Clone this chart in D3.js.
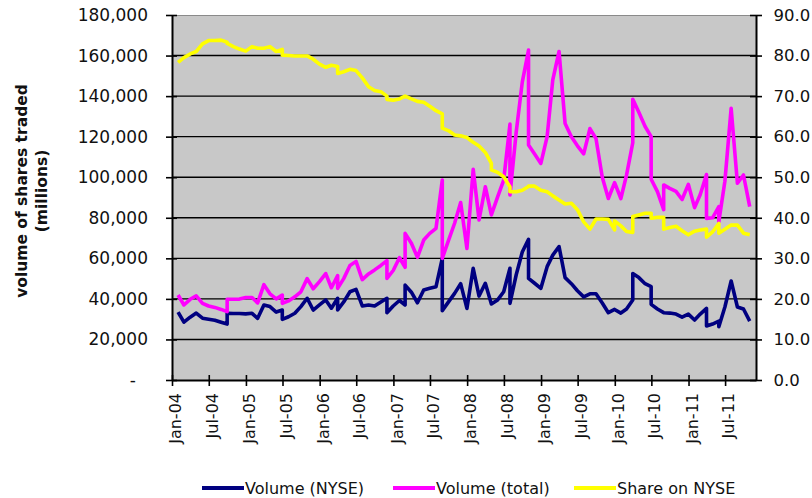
<!DOCTYPE html>
<html>
<head>
<meta charset="utf-8">
<script src="https://cdn.jsdelivr.net/npm/d3@7"></script>
<style>
  body { margin: 0; background: #fff; }
  svg { display: block; font-family: 'DejaVu Sans', Verdana, sans-serif; }
</style>
</head>
<body>
<div id="chart"></div>
<script>
// one entry per observation; a month listed twice gives the vertical steps in the lines
const months = [
  '2004-01', '2004-02', '2004-03', '2004-04', '2004-05', '2004-06', '2004-07', '2004-08', '2004-09', '2004-09', '2004-10', '2004-11', '2004-12',
  '2005-01', '2005-02', '2005-03', '2005-04', '2005-05', '2005-06', '2005-06', '2005-07', '2005-08', '2005-09', '2005-10', '2005-11', '2005-12',
  '2006-01', '2006-02', '2006-03', '2006-03', '2006-04', '2006-05', '2006-06', '2006-07', '2006-08', '2006-09', '2006-10', '2006-11', '2006-11', '2006-12',
  '2007-01', '2007-02', '2007-02', '2007-03', '2007-04', '2007-05', '2007-06', '2007-07', '2007-08', '2007-08', '2007-09', '2007-10', '2007-11', '2007-12',
  '2008-01', '2008-02', '2008-03', '2008-04', '2008-04', '2008-05', '2008-06', '2008-07', '2008-07', '2008-08', '2008-09', '2008-10', '2008-10', '2008-11', '2008-12',
  '2009-01', '2009-02', '2009-03', '2009-04', '2009-05', '2009-06', '2009-07', '2009-08', '2009-09', '2009-10', '2009-11', '2009-12', '2009-12',
  '2010-01', '2010-02', '2010-03', '2010-03', '2010-04', '2010-05', '2010-06', '2010-06', '2010-07', '2010-08', '2010-08', '2010-09', '2010-10', '2010-11', '2010-12',
  '2011-01', '2011-02', '2011-03', '2011-03', '2011-04', '2011-05', '2011-05', '2011-06', '2011-07', '2011-08', '2011-09', '2011-10'
]

// millions of shares
const volumeNyse = [
  33500, 28500, 31000, 33000, 30500, 30000, 29500, 28500, 27600, 32900, 32800, 32800, 32600,
  32900, 30400, 37000, 36200, 33500, 34500, 29900, 31200, 32900, 36200, 40300, 34500, 37000,
  39500, 35400, 40300, 34500, 38500, 43500, 44700, 36500, 37000, 36500, 38500, 40300, 33200, 36500,
  39200, 37000, 46800, 43300, 38100, 44400, 45200, 46000, 60000, 34200, 38400, 42700, 47500, 35300,
  55100, 41400, 47700, 37500, 37500, 39500, 43500, 55100, 37800, 51900, 63100, 69400, 50100, 47700, 45200,
  55900, 61600, 65800, 50500, 47500, 44000, 41000, 42500, 42500, 38000, 33200, 34800, 34800,
  33000, 35000, 39500, 52500, 50500, 47500, 46000, 37300, 35000, 33200, 33200, 33000, 32500, 31000, 32500,
  29600, 32500, 35300, 26600, 27600, 29000, 26300, 36000, 48800, 36000, 35000, 29000
]

const volumeTotal = [
  41900, 37000, 39800, 41500, 37800, 36500, 35800, 34800, 33700, 39800, 39800, 39900, 40700,
  40700, 38000, 47000, 42500, 40000, 41900, 37800, 39000, 41000, 43500, 50000, 45000, 48500,
  52500, 45500, 51500, 45200, 50000, 56500, 58500, 49500, 52300, 54300, 56500, 58900, 50100, 54000,
  60300, 55600, 72300, 67400, 60500, 69000, 72300, 74800, 98600, 60000, 68600, 77300, 87500, 64900,
  103900, 78900, 95300, 81400, 81400, 90300, 98600, 126200, 91200, 122300, 146900, 162700, 115900, 111500, 106800,
  120000, 148000, 162000, 126500, 120000, 115500, 111500, 124000, 119000, 100000, 89500, 97300, 97300,
  89500, 101000, 117000, 138400, 132000, 125000, 120000, 99000, 92900, 84000, 96200, 94500, 93000, 89000, 96500,
  85000, 91500, 101300, 79700, 80000, 85500, 78100, 98000, 134000, 97000, 101100, 85500
]

// per cent, right axis
const shareNyse = [
  78.3, 79.5, 80.4, 81.0, 82.9, 83.7, 83.7, 83.8, 83.3, 83.0, 82.2, 81.6, 81.1,
  82.2, 81.8, 81.8, 82.2, 81.0, 81.5, 80.1, 80.0, 79.9, 79.9, 79.9, 79.1, 77.9,
  77.1, 77.6, 77.3, 75.6, 76.0, 76.6, 76.3, 74.5, 72.3, 71.4, 71.1, 70.0, 69.2, 69.0,
  69.3, 70.0, 70.0, 69.3, 68.7, 68.5, 67.5, 66.4, 65.6, 62.1, 61.5, 60.4, 60.2, 59.8,
  58.6, 57.7, 56.1, 53.4, 51.8, 51.2, 50.1, 47.6, 46.4, 46.4, 46.8, 47.7, 47.8, 47.8, 46.8,
  46.4, 45.4, 44.4, 43.4, 43.6, 42.0, 39.0, 37.2, 39.7, 39.7, 39.6, 37.0, 39.2,
  38.0, 36.6, 36.4, 40.3, 40.7, 41.1, 41.1, 39.9, 40.1, 40.1, 37.2, 37.6, 37.9, 36.8, 35.8,
  36.7, 37.0, 37.2, 35.2, 36.5, 38.6, 36.2, 37.2, 38.2, 38.2, 36.2, 35.8
]

const leftTicks = [0, 20000, 40000, 60000, 80000, 100000, 120000, 140000, 160000, 180000]
const rightTicks = [0, 10, 20, 30, 40, 50, 60, 70, 80, 90]
const xTickLabels = ['Jan-04', 'Jul-04', 'Jan-05', 'Jul-05', 'Jan-06', 'Jul-06', 'Jan-07', 'Jul-07',
  'Jan-08', 'Jul-08', 'Jan-09', 'Jul-09', 'Jan-10', 'Jul-10', 'Jan-11', 'Jul-11']
const seriesNames = ['Volume (NYSE)', 'Volume (total)', 'Share on NYSE']
const seriesColors = ['#000080', '#ff00ff', '#ffff00']

const margin = {
  top: 15,
  right: 56,
  bottom: 118,
  left: 172
}
const width = 812 - margin.left - margin.right
const height = 498 - margin.top - margin.bottom

const parseMonth = d3.timeParse('%Y-%m')
const parseTick = d3.timeParse('%b-%y')
// values are plotted at the end of their month
const monthEnd = (s) => d3.timeDay.offset(d3.timeMonth.offset(parseMonth(s), 1), -1)

const rows = months.map((m, i) => ({
  date: monthEnd(m),
  nyse: volumeNyse[i],
  total: volumeTotal[i],
  share: shareNyse[i]
}))

const xScale = d3.scaleTime()
  .domain([parseMonth('2004-01'), parseMonth('2011-12')])
  .range([0, width])

const yLeft = d3.scaleLinear()
  .domain([0, 180000])
  .range([height, 0])

const yRight = d3.scaleLinear()
  .domain([0, 90])
  .range([height, 0])

const svg = d3.select('#chart')
  .append('svg')
  .attr('width', 812)
  .attr('height', 498)

const plot = svg.append('g')
  .attr('transform', `translate(${margin.left}, ${margin.top})`)

plot.append('rect')
  .attr('width', width)
  .attr('height', height)
  .attr('fill', '#c8c8c8')

// horizontal gridlines
plot.append('g')
  .selectAll('line')
  .data(leftTicks.slice(1, -1))
  .join('line')
  .attr('x1', 0)
  .attr('x2', width)
  .attr('y1', (d) => yLeft(d))
  .attr('y2', (d) => yLeft(d))
  .attr('stroke', '#000')
  .attr('stroke-width', 1.4)

plot.append('line')
  .attr('x1', 0)
  .attr('x2', width)
  .attr('y1', 0.5)
  .attr('y2', 0.5)
  .attr('stroke', '#8a8a8a')
  .attr('stroke-width', 1.2)

const lines = [
  d3.line().x((d) => xScale(d.date)).y((d) => yLeft(d.nyse)),
  d3.line().x((d) => xScale(d.date)).y((d) => yLeft(d.total)),
  d3.line().x((d) => xScale(d.date)).y((d) => yRight(d.share))
]

plot.append('g')
  .selectAll('path')
  .data(lines)
  .join('path')
  .attr('d', (l) => l(rows))
  .attr('fill', 'none')
  .attr('stroke', (l, i) => seriesColors[i])
  .attr('stroke-width', 3.6)
  .attr('stroke-linejoin', 'round')

// left axis
const leftAxis = plot.append('g')
  .call(d3.axisLeft(yLeft)
    .tickValues(leftTicks)
    .tickSizeInner(6)
    .tickSizeOuter(0)
    .tickPadding(18)
    .tickFormat((d) => d === 0 ? '-' : d3.format(',')(d)))

leftAxis.select('.domain').attr('stroke', '#000').attr('stroke-width', 2)
leftAxis.selectAll('.tick line').attr('x1', 5).attr('stroke-width', 1.6)
leftAxis.selectAll('.tick text')
  .attr('font-size', 17)
  .attr('font-family', "'DejaVu Sans', Verdana, sans-serif")
  .attr('fill', '#111')
  .filter((d) => d === 0)
  .attr('x', -36)

// right axis
const rightAxis = plot.append('g')
  .attr('transform', `translate(${width}, 0)`)
  .call(d3.axisRight(yRight)
    .tickValues(rightTicks)
    .tickSizeInner(6)
    .tickSizeOuter(0)
    .tickPadding(11.5)
    .tickFormat(d3.format('.1f')))

rightAxis.select('.domain').attr('stroke', '#000').attr('stroke-width', 2)
rightAxis.selectAll('.tick line').attr('x1', -6).attr('stroke-width', 1.6)
rightAxis.selectAll('.tick text')
  .attr('font-size', 16.5)
  .attr('font-family', "'DejaVu Sans', Verdana, sans-serif")
  .attr('fill', '#111')

// bottom axis
const bottomAxis = plot.append('g')
  .attr('transform', `translate(0, ${height})`)
  .call(d3.axisBottom(xScale)
    .tickValues(xTickLabels.map(parseTick))
    .tickSizeInner(6)
    .tickSizeOuter(0)
    .tickFormat(d3.timeFormat('%b-%y')))

bottomAxis.select('.domain').attr('stroke', '#000').attr('stroke-width', 2)
bottomAxis.selectAll('.tick line').attr('y1', -5).attr('stroke-width', 1.6)
bottomAxis.selectAll('.tick text')
  .attr('font-size', 16)
  .attr('font-family', "'DejaVu Sans', Verdana, sans-serif")
  .attr('fill', '#111')
  .attr('transform', 'rotate(-90)')
  .attr('text-anchor', 'end')
  .attr('x', -13)
  .attr('y', 3)
  .attr('dy', '0.35em')

// y axis title
const title = svg.append('text')
  .attr('transform', `translate(0, 191) rotate(-90)`)
  .attr('text-anchor', 'middle')
  .attr('font-size', 15.5)
  .attr('font-weight', 'bold')
  .attr('fill', '#111')

title.append('tspan')
  .attr('x', 0)
  .attr('y', 27)
  .text('volume of shares traded')

title.append('tspan')
  .attr('x', 0)
  .attr('y', 47)
  .text('(millions)')

// legend
const legendX = [202, 393, 574]
const legend = svg.append('g')
  .attr('transform', 'translate(0, 488)')

const items = legend.selectAll('g')
  .data(seriesNames)
  .join('g')
  .attr('transform', (d, i) => `translate(${legendX[i]}, 0)`)

items.append('line')
  .attr('x1', 0)
  .attr('x2', 42)
  .attr('stroke', (d, i) => seriesColors[i])
  .attr('stroke-width', 4)

items.append('text')
  .attr('x', 43)
  .attr('dy', '0.35em')
  .attr('font-size', 16)
  .attr('fill', '#111')
  .text((d) => d)
</script>
</body>
</html>
